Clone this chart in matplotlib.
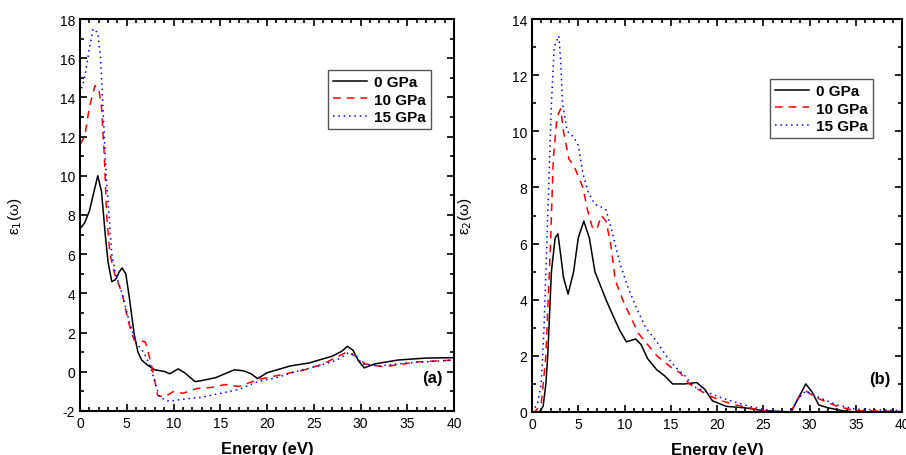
import matplotlib
matplotlib.use("Agg")
import matplotlib.pyplot as plt
from matplotlib.ticker import MultipleLocator

plt.rcParams['font.family'] = ['Liberation Sans', 'DejaVu Sans']
plt.rcParams['axes.unicode_minus'] = False

labels = ["0 GPa", "10 GPa", "15 GPa"]

# Panel (a): eps1
e1_0_x = [0, 0.5, 1.0, 1.5, 1.9, 2.3, 2.7, 3.0, 3.4, 3.8, 4.2, 4.5, 4.9, 5.3, 5.8, 6.2, 6.6, 7.2, 8.0, 9.0, 9.6, 10.5, 11.2, 12.3, 13.0, 14.5, 15.5, 16.5, 17.5, 18.3, 19.0, 20.0, 22.5, 24.5, 27.0, 28.0, 28.6, 29.2, 29.8, 30.4, 31.5, 34.0, 37.0, 40.0]
e1_0_y = [7.3, 7.6, 8.2, 9.2, 10.0, 9.2, 7.0, 5.6, 4.6, 4.7, 5.1, 5.3, 5.0, 3.7, 1.9, 1.0, 0.6, 0.35, 0.1, 0.02, -0.1, 0.15, -0.05, -0.5, -0.45, -0.3, -0.1, 0.1, 0.05, -0.1, -0.35, -0.05, 0.3, 0.45, 0.8, 1.05, 1.3, 1.1, 0.55, 0.2, 0.4, 0.6, 0.7, 0.72]

e1_10_x = [0, 0.5, 1.0, 1.6, 2.0, 2.3, 2.6, 2.85, 3.2, 3.7, 4.5, 5.2, 5.8, 6.5, 7.0, 7.4, 7.8, 8.3, 9.0, 10.0, 11.0, 12.5, 14.0, 15.5, 17.0, 19.0, 21.0, 24.0, 26.0, 28.5, 29.5, 30.5, 32.5, 36.0, 40.0]
e1_10_y = [11.6, 12.0, 13.5, 14.6, 14.5, 13.5, 11.0, 8.0, 6.0, 5.0, 4.0, 2.5, 1.6, 1.6, 1.5, 0.8, 0.0, -1.2, -1.3, -1.0, -1.1, -0.85, -0.8, -0.65, -0.75, -0.4, -0.2, 0.1, 0.4, 1.0, 0.8, 0.4, 0.25, 0.5, 0.6]

e1_15_x = [0, 0.5, 1.0, 1.4, 1.9, 2.2, 2.5, 2.8, 3.1, 3.4, 3.8, 4.5, 5.3, 6.0, 6.8, 7.5, 8.0, 8.5, 9.5, 11.0, 13.0, 15.0, 17.0, 19.0, 21.0, 23.0, 25.5, 27.5, 28.8, 29.5, 30.2, 32.0, 35.0, 40.0]
e1_15_y = [14.2, 15.0, 16.5, 17.5, 17.3, 16.0, 13.0, 10.0, 8.0, 6.0, 5.0, 4.0, 2.5, 1.5, 1.0, 0.3, -0.5, -1.3, -1.5, -1.4, -1.3, -1.1, -0.9, -0.5, -0.3, 0.0, 0.3, 0.6, 1.0, 0.8, 0.4, 0.3, 0.45, 0.6]

# Panel (b): eps2
e2_0_x = [0, 0.8, 1.2, 1.5, 1.7, 2.1, 2.5, 2.8, 3.1, 3.4, 3.9, 4.5, 5.0, 5.6, 6.2, 6.8, 8.0, 8.8, 9.5, 10.2, 11.2, 11.8, 12.5, 13.5, 14.3, 15.2, 16.5, 17.8, 18.7, 19.5, 21.0, 23.0, 25.0, 28.0, 28.8, 29.6, 30.3, 31.0, 32.0, 33.5, 35.0, 40.0]
e2_0_y = [0, 0, 0.2, 1.0, 2.0, 5.0, 6.2, 6.35, 5.6, 4.8, 4.2, 5.0, 6.2, 6.8, 6.2, 5.0, 4.0, 3.4, 2.9, 2.5, 2.6, 2.4, 1.9, 1.5, 1.3, 1.0, 1.0, 1.05, 0.8, 0.4, 0.2, 0.15, 0.05, 0.0, 0.5, 1.0, 0.7, 0.25, 0.15, 0.05, 0.0, 0.0]

e2_10_x = [0, 0.3, 1.0, 1.5, 2.0, 2.3, 2.7, 3.1, 3.4, 4.0, 4.5, 5.5, 6.0, 6.5, 7.0, 7.5, 8.0, 8.5, 9.0, 9.8, 10.5, 11.5, 12.5, 13.5, 15.0, 16.0, 17.0, 18.0, 19.0, 20.5, 22.0, 23.5, 25.0, 26.0, 28.0, 28.8, 29.6, 30.5, 31.5, 33.0, 35.0, 40.0]
e2_10_y = [0, 0, 0.3, 2.0, 6.0, 9.0, 10.5, 10.8, 10.0, 9.0, 8.8, 8.0, 7.2, 6.6, 6.5, 7.0, 6.8, 6.0, 4.7, 4.0, 3.5, 2.8, 2.4, 2.0, 1.6, 1.4, 1.0, 0.8, 0.6, 0.4, 0.25, 0.15, 0.05, 0.0, 0.0, 0.5, 0.75, 0.55, 0.4, 0.2, 0.05, 0.02]

e2_15_x = [0, 0.6, 1.0, 1.3, 1.6, 1.9, 2.1, 2.4, 2.9, 3.1, 3.3, 3.8, 4.5, 5.0, 5.5, 6.1, 6.8, 7.5, 8.0, 8.6, 9.5, 10.3, 11.3, 12.3, 13.5, 14.5, 15.5, 16.5, 17.5, 19.0, 20.5, 22.0, 23.5, 25.0, 26.5, 28.0, 28.8, 29.6, 30.5, 31.5, 33.0, 35.0, 40.0]
e2_15_y = [0, 0.3, 1.0, 3.0, 6.0, 9.0, 11.0, 13.0, 13.4, 12.5, 11.0, 10.0, 9.8, 9.5, 8.5, 7.8, 7.4, 7.3, 7.2, 6.5, 5.3, 4.5, 3.7, 3.0, 2.5, 2.0, 1.6, 1.3, 0.9, 0.7, 0.5, 0.35, 0.2, 0.1, 0.02, 0.0, 0.5, 0.75, 0.6, 0.45, 0.25, 0.1, 0.05]

styles = [dict(color='black', ls='-', lw=1.1),
          dict(color='#ff0000', ls=(0, (5, 4)), lw=1.1),
          dict(color='#0000ff', ls=(0, (1, 2.5)), lw=1.1)]

fig = plt.figure(figsize=(9.06, 4.56), dpi=100)
ax1 = fig.add_axes([80/906, 44/456, 374/906, 392/456])
ax2 = fig.add_axes([532/906, 43/456, 370/906, 393/456])

for xs, ys, st, lab in zip([e1_0_x, e1_10_x, e1_15_x], [e1_0_y, e1_10_y, e1_15_y], styles, labels):
    ax1.plot(xs, ys, label=lab, **st)
for xs, ys, st, lab in zip([e2_0_x, e2_10_x, e2_15_x], [e2_0_y, e2_10_y, e2_15_y], styles, labels):
    ax2.plot(xs, ys, label=lab, **st)

ax1.set_xlim(0, 40); ax1.set_ylim(-2, 18)
ax2.set_xlim(0, 40); ax2.set_ylim(0, 14)

legend_anchor = {'(a)': (328/906, 1 - 71/456), '(b)': (770/906, 1 - 80/456)}

for ax, panel in [(ax1, '(a)'), (ax2, '(b)')]:
    ax.xaxis.set_major_locator(MultipleLocator(5))
    ax.xaxis.set_minor_locator(MultipleLocator(1))
    ax.yaxis.set_major_locator(MultipleLocator(2))
    ax.yaxis.set_minor_locator(MultipleLocator(1))
    ax.tick_params(which='both', direction='in', top=True, right=True, labelsize=10, width=1.2)
    ax.tick_params(which='major', length=5)
    ax.tick_params(which='minor', length=3)
    for s in ax.spines.values():
        s.set_linewidth(1.5)
    ax.set_xlabel('Energy (eV)', fontsize=12, fontweight='bold', labelpad=8)
    ax.text(0.97, 0.085, panel, transform=ax.transAxes,
            ha='right', va='center', fontsize=12, fontweight='bold')
    leg = ax.legend(loc='upper left', bbox_to_anchor=legend_anchor[panel],
                    bbox_transform=fig.transFigure, borderaxespad=0,
                    prop={'weight': 'bold', 'size': 11}, handlelength=2.2, handletextpad=0.45,
                    borderpad=0.35, labelspacing=0.22, fancybox=False, framealpha=1)
    leg.get_frame().set_edgecolor('#555555')
    leg.get_frame().set_linewidth(1.0)

ax1.set_ylabel('ε$_1$(ω)', fontsize=11, labelpad=26)
ax2.set_ylabel('ε$_2$(ω)', fontsize=11, labelpad=27)

fig.savefig('out.png', dpi=100)
